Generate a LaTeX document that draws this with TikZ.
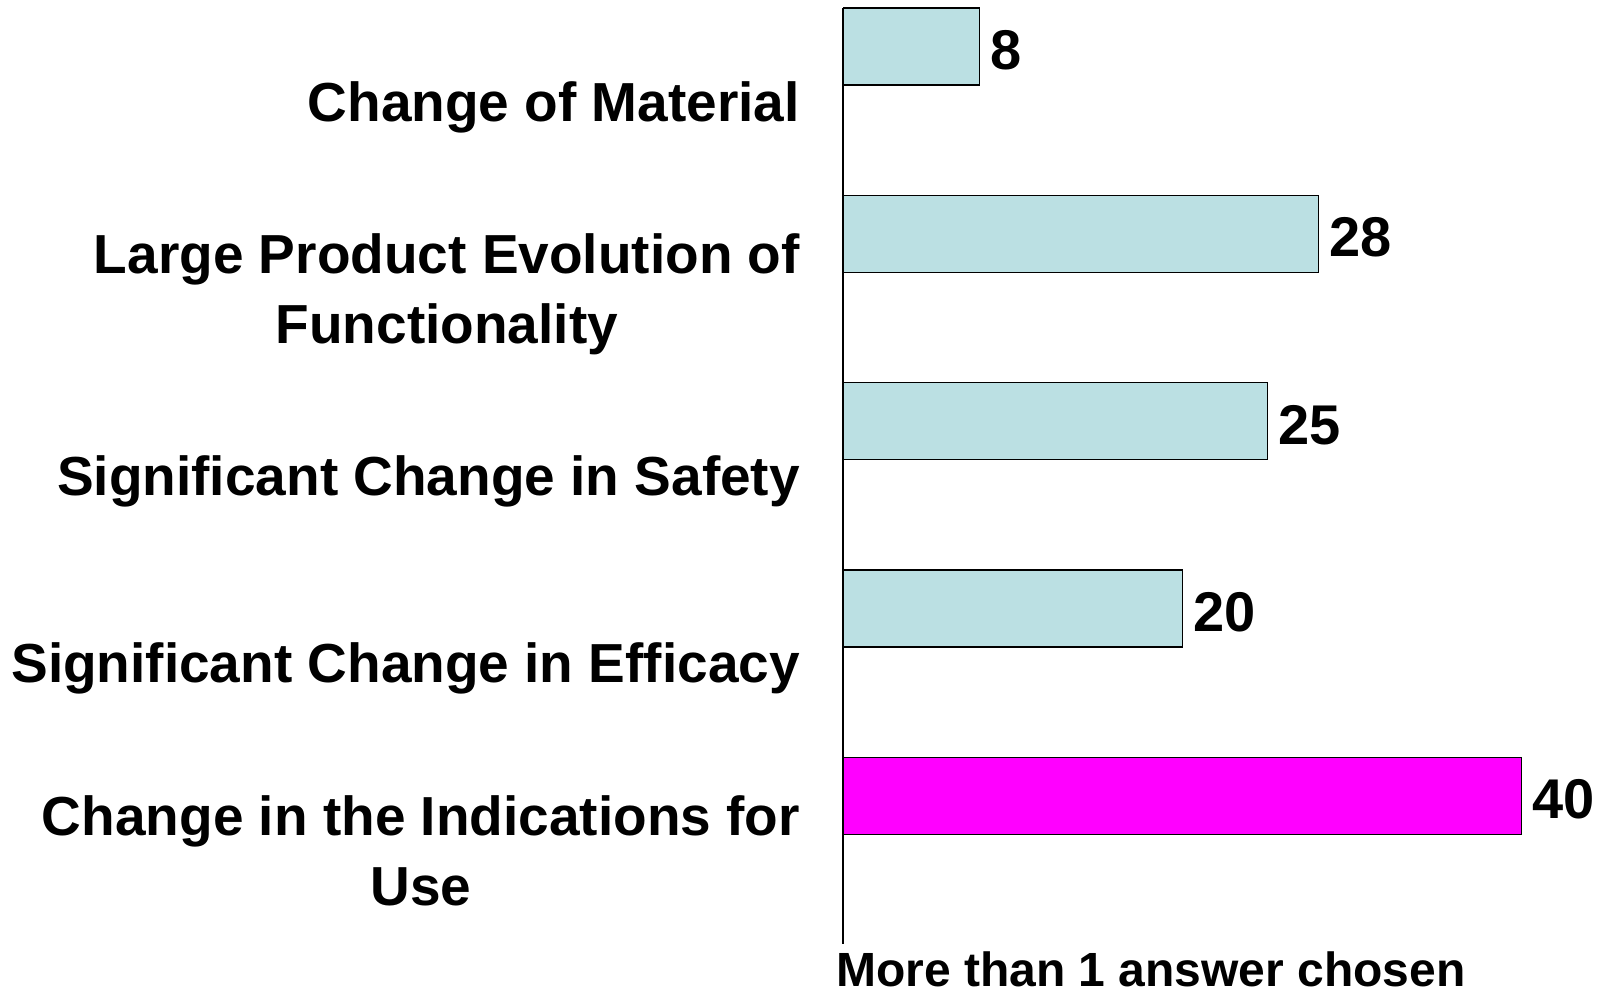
\documentclass[tikz,border=0pt]{standalone}
\usepackage{fontspec}
\setmainfont{Liberation Sans}
\usetikzlibrary{calc}
\definecolor{barblue}{RGB}{187,224,227}
\definecolor{barmag}{RGB}{255,0,255}
\begin{document}
\begin{tikzpicture}[x=1bp,y=-1bp,
  bar/.style={draw=black,line width=1.2bp,rectangle,inner sep=0,anchor=west,minimum height=77bp},
  lab/.style={font=\fontsize{55bp}{66bp}\selectfont\bfseries,inner sep=0},
  val/.style={font=\fontsize{56bp}{67bp}\selectfont\bfseries,inner sep=0,anchor=base west},
  axis/.style={draw=black,line width=1.2bp}
]
\useasboundingbox (0,0) rectangle (1605,992);
% bars
\node[bar,fill=barblue,minimum width=135.6bp] (b1) at (843,46.5) {};
\node[bar,fill=barblue,minimum width=474.6bp] (b2) at (843,233.8) {};
\node[bar,fill=barblue,minimum width=423.75bp] (b3) at (843,421.1) {};
\node[bar,fill=barblue,minimum width=339bp] (b4) at (843,608.4) {};
\node[bar,fill=barmag,minimum width=678bp] (b5) at (843,795.7) {};
% axis
\coordinate (atop) at (843,8);
\coordinate (abot) at (843,944);
\draw[axis] (atop) -- (abot);
% values
\node[val] (v1) at ($(b1.east)+(10,23)$) {8};
\node[val] (v2) at ($(b2.east)+(10,23)$) {28};
\node[val] (v3) at ($(b3.east)+(10,23)$) {25};
\node[val] (v4) at ($(b4.east)+(10,23)$) {20};
\node[val] (v5) at ($(b5.east)+(10,23)$) {40};
% category labels
\node[lab,anchor=base east] (l1) at (800,121) {Change of Material};
\node[lab,anchor=base east] (l2a) at (800,273.5) {Large Product Evolution of};
\node[lab,anchor=base] (l2b) at ($(l2a.base)+(0,69.6)$) {Functionality};
\node[lab,anchor=base east] (l3) at (800,495.6) {Significant Change in Safety};
\node[lab,anchor=base east] (l4) at (800,682.9) {Significant Change in Efficacy};
\node[lab,anchor=base east] (l5a) at (800,835.4) {Change in the Indications for};
\node[lab,anchor=base] (l5b) at ($(l5a.base)+(0,69.6)$) {Use};
% axis title
\node[font=\fontsize{48bp}{58bp}\selectfont\bfseries,inner sep=0,anchor=base west] (xt) at (836,986) {More than 1 answer chosen};
\end{tikzpicture}
\end{document}
